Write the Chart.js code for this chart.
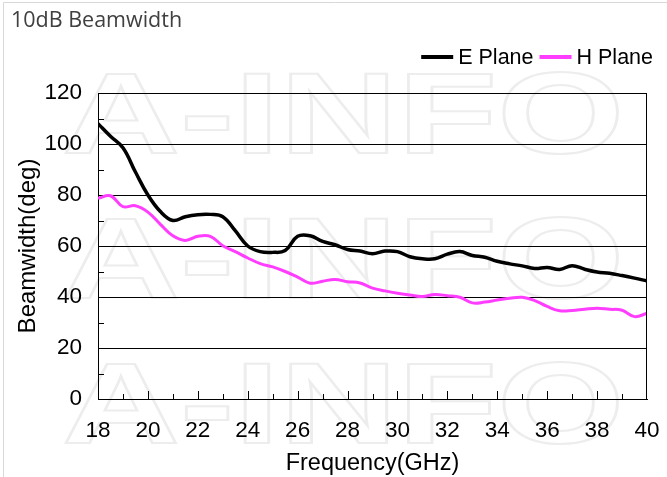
<!DOCTYPE html>
<html>
<head>
<meta charset="utf-8">
<script src="https://cdn.jsdelivr.net/npm/chart.js@4"></script>
<style>
  body { margin: 0; background: #fff; }
  #wrap { width: 667px; height: 477px; }
</style>
</head>
<body>
<div id="wrap"><canvas id="myChart" width="667" height="477"></canvas></div>
<script>
// frequency points (GHz) and beamwidths (deg)
var freq = [18, 18.5, 19, 19.5, 20, 20.5, 21, 21.5, 22, 22.5, 23, 23.5, 24, 24.5, 25, 25.5,
  26, 26.5, 27, 27.5, 28, 28.5, 29, 29.5, 30, 30.5, 31, 31.5, 32, 32.5, 33, 33.5,
  34, 34.5, 35, 35.5, 36, 36.5, 37, 37.5, 38, 38.5, 39, 39.5, 40]
var ePlane = [108, 103, 98.5, 89, 80, 73.5, 70, 71.5, 72.3, 72.4, 71.5, 66, 60, 57.8, 57.5, 58.2,
  63.8, 64, 61.8, 60.5, 58.6, 58, 57, 58, 57.8, 55.8, 55, 55, 56.8, 57.8, 56.3, 55.6,
  54, 53, 52.2, 51.2, 51.6, 50.8, 52.3, 50.9, 49.8, 49.3, 48.4, 47.4, 46.3]
var hPlane = [78.7, 79.7, 75.4, 75.8, 73.3, 68.5, 64, 62.2, 63.8, 63.8, 60.1, 57.8, 55.3, 53.1, 51.8, 50,
  47.8, 45.4, 46.2, 46.9, 46, 45.5, 43.5, 42.4, 41.5, 40.8, 40.2, 41, 40.5, 39.9, 37.7, 38,
  38.8, 39.5, 39.9, 38.6, 36.3, 34.6, 34.7, 35.2, 35.6, 35.2, 34.8, 32.3, 33.6]
var seriesNames = ['E Plane', 'H Plane']
var seriesColors = ['#000000', '#ff3dff']
var chartTitle = '10dB Beamwidth'
var watermark = 'A-INFO'

function pts(vals) {
  return vals.map(function(v, i) { return { x: freq[i], y: v } })
}

var extras = {
  id: 'extras',
  beforeDraw: function(chart) {
    var ctx = chart.ctx
    ctx.save()
    // light page frame
    ctx.strokeStyle = '#d8d8d8'
    ctx.lineWidth = 1
    ctx.beginPath()
    ctx.moveTo(3.5, 477)
    ctx.lineTo(3.5, 2.5)
    ctx.lineTo(667, 2.5)
    ctx.stroke()
    // faint outlined watermark, three rows
    ctx.strokeStyle = '#ededed'
    ctx.lineWidth = 2
    ctx.font = 'bold 115px "Liberation Sans"'
    ctx.textBaseline = 'alphabetic'
    var rows = [153, 298, 443]
    rows.forEach(function(b) {
      ctx.save()
      ctx.translate(62, b)
      ctx.scale(1.42, 1)
      ctx.strokeText(watermark, 0, 0)
      ctx.restore()
    })
    ctx.restore()
  },
  afterDraw: function(chart) {
    var ctx = chart.ctx
    var a = chart.chartArea
    var xs = chart.scales.x
    var ys = chart.scales.y
    ctx.save()
    ctx.strokeStyle = '#000'
    ctx.lineWidth = 1
    ctx.beginPath()
    // right border
    ctx.moveTo(Math.round(a.right) - 0.5, a.top)
    ctx.lineTo(Math.round(a.right) - 0.5, a.bottom)
    // inward x ticks
    for (var f = 19; f < 40; f++) {
      var px = Math.round(xs.getPixelForValue(f)) + 0.5
      var len = (f % 2 == 0) ? 8 : 5
      ctx.moveTo(px, a.bottom)
      ctx.lineTo(px, a.bottom - len)
    }
    // minor y ticks
    for (var v = 10; v < 120; v += 20) {
      var py = Math.round(ys.getPixelForValue(v)) + 0.5
      ctx.moveTo(a.left, py)
      ctx.lineTo(a.left + 6, py)
    }
    ctx.stroke()

    // title
    ctx.fillStyle = '#404040'
    ctx.font = '21.5px "Open Sans"'
    ctx.textBaseline = 'middle'
    ctx.textAlign = 'left'
    ctx.fillText(chartTitle, 11, 21)

    // legend, right aligned
    ctx.font = '21.5px "Liberation Sans"'
    ctx.fillStyle = '#000'
    var x = 653
    var y = 57
    for (var i = seriesNames.length - 1; i >= 0; i--) {
      var w = ctx.measureText(seriesNames[i]).width
      x -= w
      ctx.fillText(seriesNames[i], x, y + 1)
      ctx.strokeStyle = seriesColors[i]
      ctx.lineWidth = 4
      ctx.beginPath()
      ctx.moveTo(x - 5, y)
      ctx.lineTo(x - 37, y)
      ctx.stroke()
      x -= 37 + 6
    }
    ctx.restore()
  }
}

var ctx = document.getElementById('myChart').getContext('2d')
var chart = new Chart(ctx, {
  type: 'line',
  data: {
    datasets: [{
      label: seriesNames[0],
      data: pts(ePlane),
      borderColor: seriesColors[0],
      borderWidth: 3.5,
      pointRadius: 0,
      tension: 0.4
    }, {
      label: seriesNames[1],
      data: pts(hPlane),
      borderColor: seriesColors[1],
      borderWidth: 3,
      pointRadius: 0,
      tension: 0.4
    }]
  },
  options: {
    responsive: false,
    animation: false,
    layout: { padding: { top: 93, right: 20, left: 0, bottom: 0 } },
    plugins: {
      legend: { display: false },
      tooltip: { enabled: false }
    },
    scales: {
      x: {
        type: 'linear',
        min: 18,
        max: 40,
        afterFit: function(s) {
          s.height = 78
          s.paddingLeft = 0
          s.paddingRight = 0
        },
        ticks: {
          stepSize: 2,
          padding: 18,
          color: '#000',
          font: { family: 'Liberation Sans', size: 22.5 }
        },
        grid: { display: false, drawTicks: false },
        border: { display: true, color: '#000', width: 1 },
        title: {
          display: true,
          text: 'Frequency(GHz)',
          color: '#000',
          font: { family: 'Liberation Sans', size: 23.5 },
          padding: { top: 0, bottom: -1 }
        }
      },
      y: {
        min: 0,
        max: 120,
        afterFit: function(s) { s.width = 98 },
        ticks: {
          stepSize: 20,
          padding: 16,
          color: '#000',
          font: { family: 'Liberation Sans', size: 22.5 }
        },
        grid: { color: '#000', lineWidth: 1, drawTicks: false },
        border: { display: true, color: '#000', width: 1 },
        title: {
          display: true,
          text: 'Beamwidth(deg)',
          color: '#000',
          font: { family: 'Liberation Sans', size: 24 },
          padding: { top: 14, bottom: 0 }
        }
      }
    }
  },
  plugins: [extras]
})
</script>
</body>
</html>
